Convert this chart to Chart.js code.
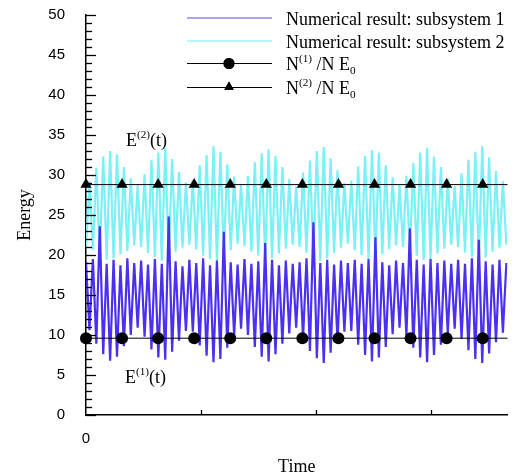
<!DOCTYPE html>
<html>
<head>
<meta charset="utf-8">
<script src="https://cdn.jsdelivr.net/npm/chart.js@4"></script>
<style>
  body { margin: 0; background: #fff; }
</style>
</head>
<body>
<canvas id="myChart" width="514" height="476"></canvas>
<script>
// time step between samples (half a fast oscillation)
const dt = 0.03;
const xMax = 3.67;

// Numerical result: subsystem 1 (max/min alternating)
const energy1 = [
  19.2, 10.6, 19.5, 8.9, 23.6, 7.6, 18.9, 6.8, 19.4, 7.3, 18.7, 8.6, 19.6, 10.0, 19.0, 10.9,
  19.3, 9.8, 18.8, 8.2, 19.5, 7.2, 18.9, 6.9, 24.8, 7.9, 19.2, 9.3, 18.6, 10.5, 19.4,
  10.4, 19.0, 8.7, 19.6, 7.4, 18.7, 6.6, 19.3, 7.0, 22.9, 8.4, 19.1, 9.9, 18.8, 10.8,
  19.5, 10.0, 18.9, 8.5, 19.2, 7.3, 21.5, 6.7, 19.4, 7.6, 18.7, 8.9, 19.3, 10.2, 18.9, 10.9,
  19.1, 9.6, 19.6, 8.0, 24.1, 7.1, 19.0, 6.5, 19.4, 7.8, 18.8, 9.2, 19.3, 10.4, 19.0,
  10.5, 19.4, 8.8, 18.9, 7.5, 19.5, 6.7, 22.2, 7.2, 19.1, 8.5, 18.7, 10.1, 19.3, 10.9,
  19.0, 9.9, 23.3, 8.4, 19.4, 7.2, 18.8, 6.6, 19.5, 7.5, 19.0, 8.8, 19.3, 10.2, 18.9, 10.8,
  19.4, 9.5, 18.9, 8.1, 19.6, 7.0, 21.9, 6.5, 19.2, 7.7, 18.8, 9.1, 19.4, 10.3, 19.0
];

// Numerical result: subsystem 2
const energy2 = [
  21.0, 29.2, 20.6, 30.9, 20.0, 32.3, 19.4, 33.0, 19.6, 32.6, 20.1, 31.0, 20.5, 29.6, 21.2, 28.7,
  21.0, 30.1, 20.3, 31.9, 19.8, 32.8, 19.3, 33.4, 19.7, 32.0, 20.4, 30.4, 20.9, 29.1, 21.3,
  29.4, 20.7, 31.2, 19.9, 32.5, 19.5, 33.6, 19.2, 32.9, 20.0, 31.3, 20.6, 29.8, 21.4, 28.8,
  21.1, 29.9, 20.4, 31.6, 19.9, 32.7, 19.4, 33.2, 19.6, 32.4, 20.2, 31.0, 20.8, 29.5, 21.3, 28.6,
  21.0, 30.3, 20.3, 31.8, 19.8, 33.0, 19.3, 33.5, 19.6, 32.1, 20.3, 30.6, 20.9, 29.0, 21.4,
  29.3, 20.6, 31.1, 20.0, 32.4, 19.5, 33.1, 19.3, 32.8, 20.1, 31.2, 20.7, 29.7, 21.2, 28.7,
  21.0, 29.9, 20.4, 31.5, 19.9, 32.8, 19.4, 33.4, 19.5, 32.3, 20.2, 31.0, 20.8, 29.6, 21.3, 28.6,
  21.0, 30.2, 20.3, 31.9, 19.8, 32.9, 19.2, 33.6, 19.7, 32.2, 20.4, 30.5, 20.9, 29.2, 21.3
];

// N(1)/N E0 and N(2)/N E0 levels, markers at these times
const markerTimes = [0, 0.314, 0.628, 0.942, 1.256, 1.57, 1.884, 2.198, 2.512, 2.826, 3.14, 3.454];
const level1 = 9.6;
const level2 = 28.8;

const xTicks = [0, 1, 2, 3];
const yTicks = [0, 5, 10, 15, 20, 25, 30, 35, 40, 45, 50];

const blue = '#4a30f2';
const cyan = '#7af0f7';
const serif = "'Liberation Serif', 'Times New Roman', serif";
const sans = "'Liberation Sans', Arial, sans-serif";

function series(vals) {
  return vals.map((v, i) => ({ x: i * dt, y: v }));
}

function levelLine(v) {
  const pts = markerTimes.map(t => ({ x: t, y: v }));
  pts.push({ x: xMax, y: v });
  return pts;
}

// text with ^super and _sub parts
function richText(c, x, y, parts, size) {
  let cx = x;
  parts.forEach(p => {
    const s = p.s ? size * 0.62 : size;
    c.font = s + 'px ' + serif;
    const dy = p.s === 1 ? -size * 0.42 : (p.s === -1 ? size * 0.2 : 0);
    c.fillText(p.t, cx, y + dy);
    cx += c.measureText(p.t).width;
  });
}

const decor = {
  id: 'decor',
  afterDraw(chart) {
    const c = chart.ctx;
    const a = chart.chartArea;
    const xs = chart.scales.x, ys = chart.scales.y;
    c.save();
    c.strokeStyle = '#000';
    c.lineWidth = 1.3;
    // inward ticks on y axis
    for (let v = 0; v <= 50; v++) {
      const p = Math.round(ys.getPixelForValue(v)) + 0.5;
      const len = v % 5 === 0 ? 10 : 6;
      c.beginPath();
      c.moveTo(a.left, p);
      c.lineTo(a.left + len, p);
      c.stroke();
    }
    xTicks.forEach(v => {
      if (v === 0) return;
      const p = Math.round(xs.getPixelForValue(v)) + 0.5;
      c.beginPath();
      c.moveTo(p, a.bottom);
      c.lineTo(p, a.bottom - 5);
      c.stroke();
    });

    // legend
    const lx0 = 187, lx1 = 272, mx = 229, tx = 286;
    const rows = [18, 41, 63, 87];
    c.lineWidth = 1.5;
    c.strokeStyle = '#8f82f3';
    c.beginPath(); c.moveTo(lx0, rows[0]); c.lineTo(lx1, rows[0]); c.stroke();
    c.strokeStyle = '#9ff3f7';
    c.beginPath(); c.moveTo(lx0, rows[1]); c.lineTo(lx1, rows[1]); c.stroke();
    c.strokeStyle = '#000';
    c.lineWidth = 1;
    c.beginPath(); c.moveTo(lx0, rows[2] + 0.5); c.lineTo(lx1, rows[2] + 0.5); c.stroke();
    c.beginPath(); c.moveTo(lx0, rows[3] + 0.5); c.lineTo(lx1, rows[3] + 0.5); c.stroke();
    c.fillStyle = '#000';
    Chart.helpers.drawPoint(c, { pointStyle: 'circle', radius: 5.5, borderWidth: 0 }, mx, rows[2] + 0.5);
    c.fill();
    Chart.helpers.drawPoint(c, { pointStyle: 'triangle', radius: 5.5, borderWidth: 0 }, mx, rows[3]);
    c.fill();

    c.textBaseline = 'alphabetic';
    c.textAlign = 'left';
    c.font = '18px ' + serif;
    c.fillText('Numerical result: subsystem 1', tx, rows[0] + 7);
    c.fillText('Numerical result: subsystem 2', tx, rows[1] + 7);
    richText(c, tx, rows[2] + 7, [{ t: 'N' }, { t: '(1)', s: 1 }, { t: ' /N E' }, { t: '0', s: -1 }], 18);
    richText(c, tx, rows[3] + 7, [{ t: 'N' }, { t: '(2)', s: 1 }, { t: ' /N E' }, { t: '0', s: -1 }], 18);

    // curve labels
    richText(c, 126, 146, [{ t: 'E' }, { t: '(2)', s: 1 }, { t: '(t)' }], 18);
    richText(c, 125, 383, [{ t: 'E' }, { t: '(1)', s: 1 }, { t: '(t)' }], 18);
    c.restore();
  }
};

new Chart(document.getElementById('myChart'), {
  type: 'line',
  data: {
    datasets: [
      {
        label: 'N(1)/N E0',
        data: levelLine(level1),
        borderColor: '#000',
        borderWidth: 1,
        backgroundColor: '#000',
        pointStyle: 'circle',
        pointRadius: ctx => (ctx.dataIndex < markerTimes.length ? 6 : 0),
        pointBorderWidth: 0,
        clip: false,
        order: 0
      },
      {
        label: 'N(2)/N E0',
        data: levelLine(level2),
        borderColor: '#000',
        borderWidth: 1,
        backgroundColor: '#000',
        pointStyle: 'triangle',
        pointRadius: ctx => (ctx.dataIndex < markerTimes.length ? 6.5 : 0),
        pointBorderWidth: 0,
        clip: false,
        order: 0
      },
      {
        label: 'Numerical result: subsystem 1',
        data: series(energy1),
        borderColor: blue,
        borderWidth: 2.2,
        pointRadius: 0,
        tension: 0,
        order: 1
      },
      {
        label: 'Numerical result: subsystem 2',
        data: series(energy2),
        borderColor: cyan,
        borderWidth: 2.2,
        pointRadius: 0,
        tension: 0,
        order: 2
      }
    ]
  },
  options: {
    responsive: false,
    animation: false,
    layout: { padding: { top: 15, right: 0, left: 0, bottom: 0 } },
    plugins: { legend: { display: false }, tooltip: { enabled: false } },
    scales: {
      x: {
        type: 'linear',
        min: 0,
        max: xMax,
        afterFit: s => { s.height = 61; },
        afterBuildTicks: s => { s.ticks = xTicks.map(v => ({ value: v })); },
        grid: { display: false, drawTicks: true, tickLength: 15 },
        border: { color: '#000', width: 1.5 },
        ticks: {
          padding: 0,
          color: '#000',
          maxRotation: 0,
          autoSkip: false,
          font: { family: sans, size: 15 },
          callback: v => (v === 0 ? '0' : '')
        },
        title: {
          display: true,
          text: 'Time',
          color: '#000',
          font: { family: serif, size: 18 },
          padding: { top: 0, bottom: -2 }
        }
      },
      y: {
        min: 0,
        max: 50,
        afterFit: s => { s.width = 86; },
        afterBuildTicks: s => { s.ticks = yTicks.map(v => ({ value: v })); },
        grid: { display: false, drawTicks: true, tickLength: 21 },
        border: { color: '#000', width: 1.5 },
        ticks: {
          padding: 0,
          color: '#000',
          font: { family: sans, size: 15 }
        },
        title: {
          display: true,
          text: 'Energy',
          color: '#000',
          font: { family: serif, size: 18 },
          padding: { top: 14, bottom: 0 }
        }
      }
    }
  },
  plugins: [decor]
});
</script>
</body>
</html>
